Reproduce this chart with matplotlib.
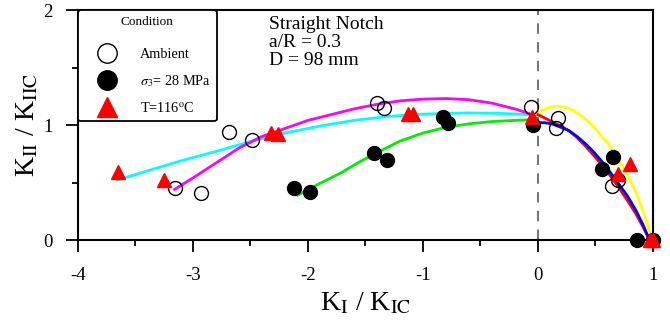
import matplotlib
matplotlib.use("Agg")
import matplotlib.pyplot as plt
from matplotlib.lines import Line2D

plt.rcParams['font.family'] = ['Liberation Serif', 'DejaVu Serif']
plt.rcParams['mathtext.fontset'] = 'stix'
plt.rcParams['axes.unicode_minus'] = False

# ---- data ----
amb_x = [-3.16, -2.93, -2.69, -2.49, -1.40, -1.34, -0.06, 0.17, 0.16, 0.70, 0.64]
amb_y = [0.45, 0.41, 0.94, 0.87, 1.19, 1.15, 1.16, 1.06, 0.97, 0.52, 0.47]

conf_x = [-2.12, -1.98, -1.43, -1.31, -0.83, -0.78, -0.04, 0.65, 0.56, 0.86, 1.00]
conf_y = [0.45, 0.42, 0.76, 0.70, 1.07, 1.02, 1.00, 0.72, 0.62, 0.00, 0.00]

temp_x = [-3.65, -3.25, -2.32, -2.26, -1.13, -1.09, -0.05, 0.80, 0.70, 0.97, 1.00]
temp_y = [0.59, 0.52, 0.93, 0.92, 1.10, 1.10, 1.07, 0.66, 0.57, 0.00, 0.00]

cyan_x = [-3.66, -3.4, -3.1, -2.8, -2.49, -2.2, -1.9, -1.6, -1.3, -1.0, -0.6, -0.3, -0.08]
cyan_y = [0.52, 0.60, 0.69, 0.77, 0.86, 0.93, 0.99, 1.04, 1.075, 1.095, 1.105, 1.10, 1.09]

mag_x = [-3.16, -3.0, -2.8, -2.6, -2.4, -2.2, -2.0, -1.8, -1.6, -1.4, -1.2, -1.0,
         -0.8, -0.6, -0.4, -0.2, -0.08]
mag_y = [0.44, 0.54, 0.67, 0.80, 0.90, 0.97, 1.04, 1.09, 1.14, 1.18, 1.21, 1.225,
         1.23, 1.22, 1.19, 1.14, 1.10]

green_x = [-2.09, -1.9, -1.72, -1.55, -1.4, -1.2, -1.0, -0.8, -0.6, -0.4, -0.2, -0.08]
green_y = [0.39, 0.49, 0.58, 0.68, 0.76, 0.86, 0.93, 0.98, 1.01, 1.03, 1.04, 1.045]

red_x = [0.00, 0.06, 0.12, 0.20, 0.27, 0.34, 0.41, 0.48, 0.55, 0.62, 0.70, 0.78, 0.85, 0.91, 0.97]
red_y = [1.09, 1.06, 1.03, 0.99, 0.95, 0.89, 0.82, 0.74, 0.66, 0.57, 0.46, 0.34, 0.23, 0.12, 0.00]

blue_x = [0.00, 0.06, 0.12, 0.20, 0.27, 0.34, 0.41, 0.48, 0.55, 0.62, 0.70, 0.78, 0.85, 0.91, 0.97]
blue_y = [1.02, 1.02, 1.01, 0.98, 0.95, 0.90, 0.84, 0.77, 0.69, 0.60, 0.49, 0.38, 0.26, 0.14, 0.00]

yel_x = [0.00, 0.04, 0.10, 0.18, 0.25, 0.32, 0.39, 0.46, 0.53, 0.61, 0.68, 0.76, 0.82, 0.87,
         0.93, 0.97, 1.00]
yel_y = [1.10, 1.13, 1.155, 1.165, 1.15, 1.12, 1.07, 1.01, 0.93, 0.84, 0.73, 0.60, 0.48, 0.37,
         0.20, 0.08, 0.00]

x_ticks = [-4, -3, -2, -1, 0, 1]
y_ticks = [0, 1, 2]

labels = ['Ambient', r'$\sigma_3$= 28 MPa', r'T=116$^{\mathrm{o}}$C']

# ---- figure ----
fig = plt.figure(figsize=(6.7, 3.29), dpi=100)
ax = fig.add_axes([0.1164, 0.2705, 0.8582, 0.6991])

ax.axvline(0, color='#777777', lw=1.5, ls=(0, (5, 4)), zorder=1)

lw = 2.0
ax.plot(cyan_x, cyan_y, color='cyan', lw=lw, zorder=2)
ax.plot(mag_x, mag_y, color='magenta', lw=lw, zorder=2)
ax.plot(green_x, green_y, color='#00ee00', lw=lw, zorder=2)
ax.plot(yel_x, yel_y, color='yellow', lw=lw, zorder=2)
ax.plot(red_x, red_y, color='red', lw=lw, zorder=2)
ax.plot(blue_x, blue_y, color='blue', lw=lw, zorder=2)

ax.plot(amb_x, amb_y, 'o', ms=10, mfc='none', mec='black', mew=1.0, zorder=3, clip_on=False)
ax.plot(conf_x, conf_y, 'o', ms=10, mfc='black', mec='black', zorder=3, clip_on=False)
ax.plot(temp_x, temp_y, '^', ms=10, mfc='red', mec='red', zorder=4, clip_on=False)

ax.set_xlim(-4, 1)
ax.set_ylim(0, 2)
ax.set_xticks(x_ticks)
ax.set_yticks(y_ticks)
ax.set_xticks([-3.5, -2.5, -1.5, -0.5, 0.5], minor=True)
ax.set_yticks([0.5, 1.5], minor=True)
ax.tick_params(which='major', direction='out', length=8.5, width=1.3, labelsize=13.5)
ax.tick_params(axis='x', which='major', pad=11)
ax.tick_params(axis='y', which='major', pad=10)
ax.tick_params(which='minor', direction='out', length=4.5, width=1.3)
for s in ax.spines.values():
    s.set_linewidth(1.5)

ax.set_xlabel(r'K$_{\mathrm{I}}$ / K$_{\mathrm{IC}}$', fontsize=20, labelpad=5)
ax.set_ylabel(r'K$_{\mathrm{II}}$ / K$_{\mathrm{IIC}}$', fontsize=20, labelpad=1.5)

ax.text(0.333, 0.975, 'Straight Notch\na/R = 0.3\nD = 98 mm', transform=ax.transAxes,
        ha='left', va='top', fontsize=14, linespacing=1.1)

handles = [
    Line2D([], [], ls='none', marker='o', ms=14, mfc='none', mec='black', mew=1.0),
    Line2D([], [], ls='none', marker='o', ms=14, mfc='black', mec='black'),
    Line2D([], [], ls='none', marker='^', ms=14, mfc='red', mec='red'),
]
leg = ax.legend(handles, labels, title='Condition', loc='upper left',
                bbox_to_anchor=(0.0, 1.0), fontsize=10.3, title_fontsize=9.5,
                frameon=True, fancybox=True, edgecolor='black', framealpha=1,
                labelspacing=0.85, handletextpad=0.75, borderpad=0.45, borderaxespad=0.0,
                handlelength=3.1)
leg.get_frame().set_linewidth(1.3)
leg._legend_box.sep = 14

fig.savefig('out.png', dpi=100)
